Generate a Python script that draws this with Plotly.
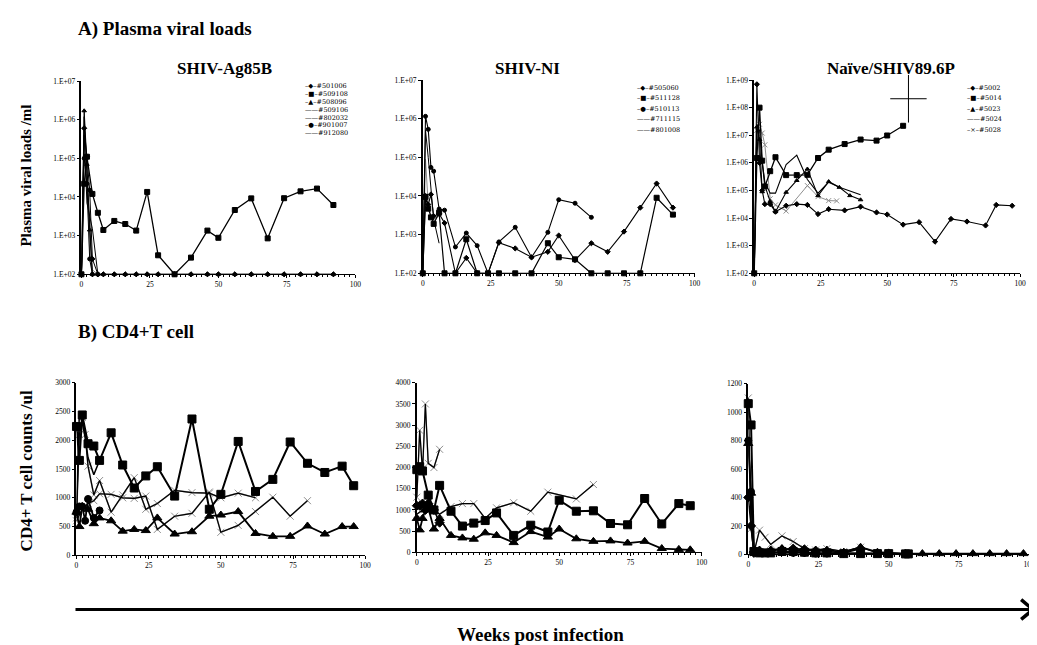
import plotly.graph_objects as go

W, H = 1037, 645

# ---------------- DATA ----------------
# A) Plasma viral loads (copies/ml) - SHIV-Ag85B
ag_names = ["#501006", "#509108", "#508096", "#509106", "#802032", "#901007", "#912080"]
ag_w_501006 = [0, 1, 2, 3, 4, 6, 8, 12, 16, 20, 24, 28, 34, 40, 46, 50, 56, 62, 68, 74, 80, 86, 92]
ag_v_501006 = [100, 6.0e5, 1.1e5, 1.5e4, 250] + [100] * 18
ag_w_509108 = [0, 1, 2, 4, 6, 8, 12, 16, 20, 24, 28, 34, 40, 46, 50, 56, 62, 68, 74, 80, 86, 92]
ag_v_509108 = [100, 2.2e4, 1.1e5, 1.2e4, 3.9e3, 1.4e3, 2.4e3, 2.0e3, 1.35e3, 1.35e4, 310, 100, 270,
               1.35e3, 880, 4.6e3, 9.2e3, 850, 9.3e3, 1.4e4, 1.65e4, 6.2e3]
ag_w_508096 = [0, 1, 2, 3, 4, 6, 8, 12, 16, 20, 24, 28, 34, 40, 46, 50, 56, 62, 68, 74, 80, 86, 92]
ag_v_508096 = [100, 1.7e6, 7.0e4, 1.4e3] + [100] * 19
ag_w_509106 = [0, 1, 2, 3, 4, 6]
ag_v_509106 = [100, 3.0e5, 2.5e4, 400, 130, 100]
ag_w_802032 = [0, 1, 2, 3, 4]
ag_v_802032 = [100, 1.2e6, 4.0e4, 2.0e3, 100]
ag_w_901007 = [0, 1, 2, 3, 4, 6]
ag_v_901007 = [100, 1.0e5, 2.2e4, 250, 100, 100]
ag_w_912080 = [0, 1, 2, 4, 6]
ag_v_912080 = [100, 4.0e5, 7.0e3, 1.5e3, 100]

# SHIV-NI
ni_names = ["#505060", "#511128", "#510113", "#711115", "#801008"]
ni_w_505060 = [0, 1, 2, 3, 4, 6, 8, 12, 16, 20, 24, 28, 34, 40, 46, 50, 56, 62, 68, 74, 80, 86, 92]
ni_v_505060 = [100, 1.0e4, 6.0e3, 1.1e4, 3.0e3, 3.5e3, 2.0e3, 100, 250, 100, 100, 620, 440, 260, 360,
               950, 220, 600, 360, 1.2e3, 5.0e3, 2.1e4, 5.0e3]
ni_w_511128 = [0, 1, 2, 3, 4, 6, 8, 12, 16, 20, 24, 28, 34, 40, 46, 50, 56, 62, 68, 74, 80, 86, 92]
ni_v_511128 = [100, 9.5e3, 4.7e3, 2.8e3, 1.9e3, 3.7e3, 100, 100, 760, 100, 100, 100, 100, 100, 600,
               260, 230, 100, 100, 100, 100, 9.0e3, 3.3e3]
ni_w_510113 = [0, 1, 2, 3, 4, 6, 8, 12, 16, 20, 24, 28, 34, 40, 46, 50, 56, 62]
ni_v_510113 = [100, 1.15e6, 5.3e5, 5.5e4, 4.4e4, 4.6e3, 4.3e3, 480, 1.1e3, 520, 100, 650, 1.55e3,
               260, 1.15e3, 8.0e3, 6.5e3, 2.8e3]
ni_w_711115 = [0, 1, 2, 3, 4, 6]
ni_v_711115 = [100, 5.0e5, 1.0e5, 1.3e4, 2.5e3, 600]
ni_w_801008 = [0, 1, 2, 3, 4, 6]
ni_v_801008 = [100, 9.0e4, 6.0e3, 3.0e3, 2.5e3, 3.0e3]

# Naive/SHIV89.6P
nv_names = ["#5002", "#5014", "#5023", "#5024", "#5028"]
nv_w_5002 = [0, 1, 2, 3, 4, 6, 8, 12, 16, 20, 24, 28, 34, 40, 46, 50, 56, 62, 68, 74, 80, 87, 91, 97]
nv_v_5002 = [100, 7.0e8, 1.0e6, 1.0e5, 3.2e4, 3.2e4, 1.7e4, 2.8e4, 3.2e4, 3.0e4, 1.4e4, 2.1e4, 1.9e4,
             2.6e4, 1.6e4, 1.35e4, 5.8e3, 7.1e3, 1.4e3, 9.3e3, 7.5e3, 5.4e3, 3.0e4, 2.8e4]
nv_w_5014 = [0, 1, 2, 3, 4, 6, 8, 12, 16, 20, 24, 28, 34, 40, 46, 50, 56]
nv_v_5014 = [100, 1.5e6, 1.0e8, 1.2e6, 1.4e5, 5.0e5, 1.6e6, 3.6e5, 3.6e5, 3.7e5, 1.5e6, 3.0e6, 4.8e6,
             7.0e6, 6.4e6, 9.8e6, 2.2e7]
nv_w_5023 = [0, 1, 2, 3, 4, 6, 8, 12, 16, 20, 24, 28, 32, 36, 40]
nv_v_5023 = [100, 2.0e7, 7.0e6, 9.0e4, 1.5e5, 4.0e4, 1.7e4, 8.6e4, 2.3e5, 6.0e5, 6.5e4, 2.1e5, 1.3e5,
             6.5e4, 4.6e4]
nv_w_5024 = [0, 1, 2, 3, 4, 6, 8, 12, 16, 20, 24, 28, 32, 40]
nv_v_5024 = [100, 2.5e7, 1.5e7, 1.0e6, 2.0e5, 8.0e4, 8.0e4, 8.7e5, 1.9e6, 2.5e5, 8.0e4, 2.0e5, 1.3e5, 7.0e4]
nv_w_5028 = [0, 1, 2, 3, 4, 6, 8, 12, 20, 24, 28, 31]
nv_v_5028 = [100, 1.5e7, 2.5e7, 1.2e7, 4.5e6, 5.0e4, 3.0e4, 1.8e4, 1.5e5, 6.0e4, 4.3e4, 4.2e4]
nv_death_week = [58]
nv_death_load = [2.1e8]

# B) CD4+ T cell counts (/ul) - SHIV-Ag85B
b1_w_sq = [0, 1, 2, 4, 6, 8, 12, 16, 20, 24, 28, 34, 40, 46, 50, 56, 62, 68, 74, 80, 86, 92, 96]
b1_v_sq = [2240, 1650, 2440, 1940, 1900, 1650, 2130, 1570, 1170, 1380, 1540, 1030, 2370, 800, 1060,
           1980, 1110, 1320, 1970, 1600, 1440, 1550, 1210]
b1_w_tri = [0, 1, 2, 4, 6, 8, 12, 16, 20, 24, 28, 34, 40, 46, 50, 56, 62, 68, 74, 80, 86, 92, 96]
b1_v_tri = [750, 500, 850, 800, 550, 650, 600, 420, 450, 430, 650, 370, 410, 680, 700, 760, 380, 330,
            330, 510, 370, 500, 500]
b1_w_cir = [0, 1, 2, 3, 4, 6, 8]
b1_v_cir = [750, 850, 850, 600, 980, 650, 780]
b1_w_x1 = [0, 1, 2, 3, 4, 6, 8, 12, 16, 20, 24, 28, 34, 40, 46, 50, 56, 62]
b1_v_x1 = [650, 2100, 2400, 2100, 1550, 1050, 1300, 750, 1050, 1350, 800, 900, 1130, 1090, 1080,
           1000, 1080, 1000]
b1_w_x2 = [0, 2, 4, 6, 8, 12, 16, 20, 24, 28, 34, 40, 46, 50, 56, 62, 68, 74, 80]
b1_v_x2 = [600, 800, 900, 950, 1070, 1060, 1000, 990, 1030, 450, 680, 730, 1100, 400, 520, 760, 1010,
           680, 950]
b1_w_ln = [0, 1, 2, 3, 4, 6, 8]
b1_v_ln = [800, 2480, 2300, 2050, 1700, 1400, 1650]

# SHIV-NI
b2_w_x1 = [0, 1, 2, 3, 4, 6, 8]
b2_v_x1 = [1300, 2880, 1900, 3500, 2100, 2000, 2430]
b2_w_x2 = [0, 2, 4, 8, 12, 16, 20, 24, 28, 34, 40, 46, 56, 62]
b2_v_x2 = [900, 1000, 1100, 900, 1080, 1150, 1150, 800, 1050, 1170, 970, 1420, 1260, 1600]
b2_w_sq = [0, 1, 2, 4, 6, 8, 12, 16, 20, 24, 28, 34, 40, 46, 50, 56, 62, 68, 74, 80, 86, 92, 96]
b2_v_sq = [1950, 2020, 1920, 1350, 1000, 1580, 970, 620, 690, 750, 930, 400, 640, 480, 1230, 970, 980,
           680, 650, 1270, 670, 1150, 1100]
b2_w_tri = [0, 1, 2, 3, 4, 6, 8, 12, 16, 20, 24, 28, 34, 40, 46, 50, 56, 62, 68, 74, 80, 86, 92, 96]
b2_v_tri = [800, 530, 800, 1000, 1050, 550, 800, 400, 340, 310, 460, 400, 230, 490, 360, 550, 320, 260,
            270, 220, 260, 90, 70, 60]
b2_w_dia = [0, 1, 2, 3, 4, 6, 8]
b2_v_dia = [1100, 1100, 1150, 1000, 1150, 1000, 700]

# Naive/SHIV89.6P
b3_w_sq = [0, 1, 2, 4, 6, 8, 12, 16, 20, 24, 28, 34, 40, 46, 50, 56, 57]
b3_v_sq = [1060, 910, 20, 10, 10, 10, 20, 20, 15, 10, 10, 5, 5, 5, 5, 3, 3]
b3_w_tri = [0, 1, 2, 4, 8, 12, 16, 20, 24, 28, 34, 40, 46, 50, 56, 62, 68, 74, 80, 86, 92, 98]
b3_v_tri = [780, 430, 30, 30, 30, 40, 30, 30, 30, 30, 15, 50, 15, 10, 5, 5, 5, 5, 5, 5, 5, 5]
b3_w_x = [0, 1, 2, 4, 6, 8, 12, 16, 20, 24, 28, 34, 40, 46, 50]
b3_v_x = [1100, 180, 10, 170, 120, 70, 130, 90, 40, 30, 40, 20, 50, 10, 5]
b3_w_cir = [0, 1, 2, 4, 8, 12, 16, 20, 24, 28]
b3_v_cir = [800, 440, 20, 10, 10, 15, 10, 10, 5, 5]
b3_w_dia = [0, 1, 2, 4, 8, 12, 16, 20, 24, 28, 34, 40]
b3_v_dia = [400, 200, 10, 25, 25, 35, 40, 35, 25, 20, 10, 40]

x_ticks = [0, 25, 50, 75, 100]
log_tickvals_7 = [1e2, 1e3, 1e4, 1e5, 1e6, 1e7]
log_tickvals_9 = [1e2, 1e3, 1e4, 1e5, 1e6, 1e7, 1e8, 1e9]
log_ticktext_7 = ["1.E+02", "1.E+03", "1.E+04", "1.E+05", "1.E+06", "1.E+07"]
log_ticktext_9 = log_ticktext_7 + ["1.E+08", "1.E+09"]

# ---------------- FIGURE ----------------
fig = go.Figure()
BLACK = "black"
GRAY = "#8f8f8f"


def add(panel, wk, val, symbol=None, color=BLACK, size=5, width=1.2):
    mode = "lines+markers" if symbol else "lines"
    fig.add_trace(go.Scatter(
        x=wk, y=val, mode=mode,
        xaxis="x" if panel == 1 else f"x{panel}",
        yaxis="y" if panel == 1 else f"y{panel}",
        line=dict(color=color, width=width),
        marker=dict(symbol=symbol or "circle", size=size, color=color,
                    line=dict(color=color, width=1)),
        cliponaxis=False, showlegend=False))


# Panel A1
add(1, ag_w_509106, ag_v_509106, None, GRAY, width=1)
add(1, ag_w_802032, ag_v_802032, None, BLACK, width=1)
add(1, ag_w_912080, ag_v_912080, None, BLACK, width=1)
add(1, ag_w_901007, ag_v_901007, "circle", BLACK, 4, 1)
add(1, ag_w_508096, ag_v_508096, "triangle-up", BLACK, 4, 1)
add(1, ag_w_501006, ag_v_501006, "diamond", BLACK, 4, 1)
add(1, ag_w_509108, ag_v_509108, "square", BLACK, 5, 1.3)

# Panel A2
add(2, ni_w_801008, ni_v_801008, None, GRAY, width=1)
add(2, ni_w_711115, ni_v_711115, None, BLACK, width=1)
add(2, ni_w_505060, ni_v_505060, "diamond", BLACK, 4, 1.1)
add(2, ni_w_511128, ni_v_511128, "square", BLACK, 5, 1.2)
add(2, ni_w_510113, ni_v_510113, "circle", BLACK, 4, 1.1)

# Panel A3
add(3, nv_w_5028, nv_v_5028, "x-thin", GRAY, 5, 1)
add(3, nv_w_5024, nv_v_5024, None, BLACK, width=1.1)
add(3, nv_w_5023, nv_v_5023, "triangle-up", BLACK, 4, 1.1)
add(3, nv_w_5002, nv_v_5002, "diamond", BLACK, 4, 1.1)
add(3, nv_w_5014, nv_v_5014, "square", BLACK, 5, 1.3)
for sym, sz in (("line-ns", 34), ("line-ew", 26)):
    fig.add_trace(go.Scatter(x=nv_death_week, y=nv_death_load, mode="markers", xaxis="x3", yaxis="y3",
                             marker=dict(symbol=sym, size=sz, line=dict(color=BLACK, width=1)),
                             cliponaxis=False, showlegend=False))

# Panel B1
add(4, b1_w_x2, b1_v_x2, "x-thin", GRAY, 7, 1.6)
add(4, b1_w_x1, b1_v_x1, "x-thin", GRAY, 7, 1.6)
add(4, b1_w_x2, b1_v_x2, None, BLACK, width=1.2)
add(4, b1_w_x1, b1_v_x1, None, BLACK, width=1.2)
add(4, b1_w_ln, b1_v_ln, None, BLACK, width=1.5)
add(4, b1_w_tri, b1_v_tri, "triangle-up", BLACK, 8, 1.8)
add(4, b1_w_cir, b1_v_cir, "circle", BLACK, 7, 1.8)
add(4, b1_w_sq, b1_v_sq, "square", BLACK, 8, 2)

# Panel B2
add(5, b2_w_x1, b2_v_x1, "x-thin", GRAY, 7, 1.4)
add(5, b2_w_x2, b2_v_x2, "x-thin", GRAY, 7, 1.4)
add(5, b2_w_x1, b2_v_x1, None, BLACK, width=1.2)
add(5, b2_w_x2, b2_v_x2, None, BLACK, width=1.2)
add(5, b2_w_dia, b2_v_dia, "diamond", BLACK, 7, 1.6)
add(5, b2_w_tri, b2_v_tri, "triangle-up", BLACK, 8, 1.8)
add(5, b2_w_sq, b2_v_sq, "square", BLACK, 8, 2)

# Panel B3
add(6, b3_w_x, b3_v_x, "x-thin", GRAY, 7, 1.4)
add(6, b3_w_x, b3_v_x, None, BLACK, width=1.2)
add(6, b3_w_dia, b3_v_dia, "diamond", BLACK, 7, 1.6)
add(6, b3_w_cir, b3_v_cir, "circle", BLACK, 7, 1.6)
add(6, b3_w_tri, b3_v_tri, "triangle-up", BLACK, 8, 1.8)
add(6, b3_w_sq, b3_v_sq, "square", BLACK, 8, 2)


# ---------------- AXES ----------------
def px_x(x):
    return x / W


def px_y(y):
    return 1 - y / H


domains = {
    1: ((72, 348), (70, 266)),
    2: ((416, 690), (69, 265)),
    3: ((750, 1018), (69, 265)),
    4: ((67, 358), (376, 551)),
    5: ((410, 697), (376, 548)),
    6: ((744, 1027), (377, 550)),
}
TICKFONT = dict(family="Liberation Serif", size=7.5, color="black")
layout_axes = {}
for p, ((x0, x1), (y0, y1)) in domains.items():
    xn = "xaxis" if p == 1 else f"xaxis{p}"
    yn = "yaxis" if p == 1 else f"yaxis{p}"
    anchor_y = "y" if p == 1 else f"y{p}"
    anchor_x = "x" if p == 1 else f"x{p}"
    layout_axes[xn] = dict(domain=[px_x(x0), px_x(x1)], anchor=anchor_y, range=[0, 100],
                           tickvals=x_ticks, showline=True, linecolor="black", linewidth=1,
                           ticks="outside", ticklen=3, tickcolor="black", showgrid=False,
                           zeroline=False, tickfont=TICKFONT,
                           minor=dict(ticks="outside", ticklen=2, dtick=2, tickcolor="black",
                                      showgrid=False))
    ya = dict(domain=[px_y(y1), px_y(y0)], anchor=anchor_x, showline=True, linecolor="black",
              linewidth=1.5, ticks="outside", ticklen=3, tickcolor="black", showgrid=False,
              zeroline=False, tickfont=TICKFONT)
    if p in (1, 2):
        ya.update(type="log", range=[2, 7], tickvals=log_tickvals_7, ticktext=log_ticktext_7)
    elif p == 3:
        ya.update(type="log", range=[2, 9], tickvals=log_tickvals_9, ticktext=log_ticktext_9)
    elif p == 4:
        ya.update(range=[0, 3000], dtick=500)
    elif p == 5:
        ya.update(range=[0, 4000], dtick=500)
    else:
        ya.update(range=[0, 1200], dtick=200)
    layout_axes[yn] = ya

fig.update_layout(width=W, height=H, margin=dict(l=0, r=0, t=0, b=0),
                  paper_bgcolor="white", plot_bgcolor="white", showlegend=False, **layout_axes)

# ---------------- TEXT ----------------
SERIF = "Liberation Serif"


def text(x, y, s, size, xanchor="center", angle=0, bold=True, family=SERIF, color="black"):
    fig.add_annotation(x=px_x(x), y=px_y(y), xref="paper", yref="paper", text=f"<b>{s}</b>" if bold else s,
                       showarrow=False, xanchor=xanchor, yanchor="middle", textangle=angle,
                       font=dict(family=family, size=size, color=color))


text(67, 17, "A) Plasma viral loads", 19, "left")
text(67, 325, "B) CD4+T cell", 19, "left")
text(216, 57, "SHIV-Ag85B", 17)
text(522, 57, "SHIV-NI", 17)
text(888, 57, "Naïve/SHIV89.6P", 17)
text(16, 166, "Plasma viral loads /ml", 15, angle=-90)
text(17, 465, "CD4+ T cell counts /ul", 17, angle=-90)
text(535, 631, "Weeks post infection", 19)

# legends (symbol samples as glyphs)
ag_glyph = ["–◆–", "–■–", "–▲–", "——", "——", "–●–", "——"]
ni_glyph = ["–◆–", "–■–", "–●–", "——", "——"]
nv_glyph = ["–◆–", "–■–", "–▲–", "——", "–×–"]


def legend(x, ys, glyphs, names):
    for yy, g, n in zip(ys, glyphs, names):
        fig.add_annotation(x=px_x(x), y=px_y(yy), xref="paper", yref="paper",
                           text=g + n, showarrow=False,
                           xanchor="left", yanchor="middle",
                           font=dict(family="DejaVu Serif", size=6.5, color="black"))


legend(295, [75, 83, 91, 99, 107, 115, 123], ag_glyph, ag_names)
legend(630, [77, 87.5, 98, 109, 120], ni_glyph, ni_names)
legend(962, [77, 87.5, 98, 109, 120], nv_glyph, nv_names)

# bottom arrow
fig.add_shape(type="line", xref="paper", yref="paper", x0=px_x(66), x1=px_x(1030), y0=px_y(606),
              y1=px_y(606), line=dict(color="black", width=3))
fig.add_shape(type="path", xref="paper", yref="paper",
              path=f"M{px_x(1019)},{px_y(596)} L{px_x(1031)},{px_y(606)} L{px_x(1019)},{px_y(616)}",
              line=dict(color="black", width=3.5))

fig.write_html("out.html")
